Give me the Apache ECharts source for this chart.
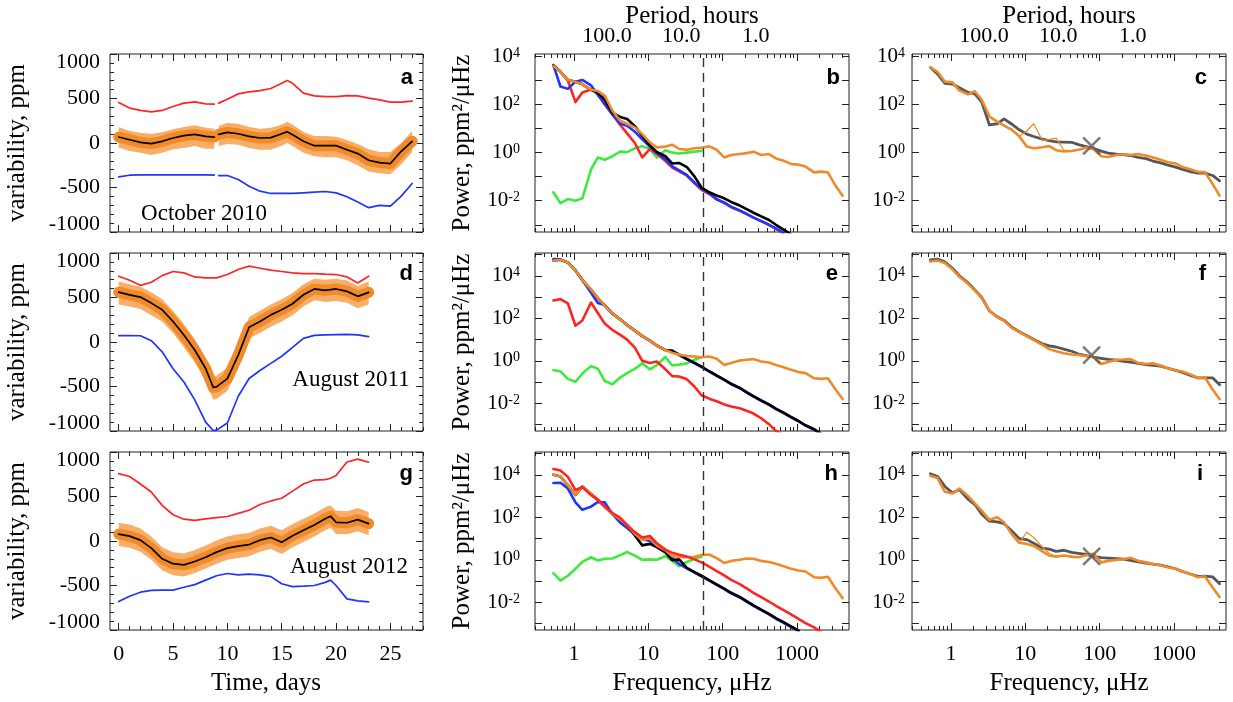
<!DOCTYPE html>
<html><head><meta charset="utf-8">
<script src="https://cdn.jsdelivr.net/npm/echarts@6/dist/echarts.min.js"></script>
<style>html,body{margin:0;padding:0;background:#fff}#c{width:1233px;height:702px}</style>
</head><body><div id="c"></div>
<script>
// ---------------- DATA ----------------
// Left column: time series (ppm) on a day grid; null = data gap
const DAYS_A  = [0,1,2,3,4,5,6,7,8,8.8,9,9.2,10,11,12,13,14,15,15.5,16,17,18,19,20,21,22,23,24,25,26,27];
const RED_A   = [455,392,366,350,366,410,448,463,440,436,null,448,492,552,574,589,612,671,701,671,560,530,522,522,533,530,504,485,459,459,470];
const BLACK_A = [67,37,7,-7,19,56,82,97,75,67,null,97,119,104,75,56,60,104,127,93,19,-30,-30,-30,-75,-119,-194,-220,-231,-93,19];
const BLUE_A  = [-380,-362,-358,-358,-358,-358,-358,-358,-358,-360,null,-366,-366,-410,-485,-541,-567,-567,-567,-567,-560,-552,-545,-560,-604,-664,-727,-701,-709,-597,-455];
const UPPER_A = [180,135,115,100,120,155,180,200,170,160,null,190,225,215,180,160,170,205,240,205,125,80,80,70,35,-10,-70,-100,-100,0,135];
const LOWER_A = [-50,-90,-110,-135,-110,-70,-55,-35,-65,-65,null,-35,-10,-20,-55,-75,-75,-30,0,-35,-110,-150,-160,-160,-195,-250,-320,-340,-350,-240,-105];

const DAYS_D  = [0,1,2,3,4,5,6,7,8,8.7,9,10,11,12,13,14,15,16,17,18,19,20,21,22,23];
const RED_D   = [739,694,637,671,746,792,777,731,720,720,720,758,814,852,829,807,792,777,769,769,762,758,731,664,739];
const BLACK_D = [560,530,505,437,362,230,79,-90,-298,-510,-505,-411,-147,166,230,305,362,430,531,596,580,596,569,513,558];
const BLUE_D  = [72,72,70,15,-110,-300,-450,-650,-900,-995,-990,-910,-610,-410,-320,-240,-160,-60,40,75,80,82,85,80,60];
const UPPER_D = [680,650,620,560,480,350,200,30,-190,-380,-380,-290,-30,280,350,420,480,550,650,710,700,710,690,630,680];
const LOWER_D = [420,400,370,300,230,100,-60,-230,-440,-650,-640,-550,-290,40,100,170,230,300,400,470,450,460,440,380,420];

const DAYS_G  = [0,1,2,3,4,5,6,7,8,9,10,11,12,13,14,15,16,17,18,19,19.5,20,21,22,23];
const RED_G   = [757,725,640,550,400,295,245,232,248,262,275,310,345,410,450,480,560,640,685,690,705,735,888,920,885];
const BLACK_G = [77,55,10,-80,-200,-255,-268,-230,-182,-125,-80,-58,-40,9,39,-15,60,120,180,250,279,210,205,240,195];
const BLUE_G  = [-680,-620,-575,-555,-552,-552,-520,-490,-440,-390,-365,-380,-372,-380,-400,-480,-512,-508,-500,-465,-440,-500,-650,-672,-683];
const UPPER_G = [205,185,140,50,-70,-125,-140,-100,-50,5,50,75,90,140,170,120,190,250,310,380,400,340,335,370,325];
const LOWER_G = [-55,-75,-120,-210,-330,-385,-400,-360,-310,-255,-210,-190,-170,-120,-90,-145,-70,-10,50,120,150,80,75,110,65];

// Spectra: frequency grid (µHz) and log10(power, ppm²/µHz)
const FREQ = [0.53,0.66,0.83,1.05,1.3,1.7,2.1,2.6,3.3,4.2,5.2,6.6,8.3,10.5,13,17,21,26,33,42,52,66,83,105,130,170,210,260,330,420,520,660,830,1050,1300,1700,2100,2600,3300,4100];

const LGP_B_ORANGE = [3.61,3.36,3.02,2.95,2.84,2.61,2.56,2.37,1.74,1.33,1.19,1.05,0.77,0.43,0.22,0.25,0.33,0.15,0.12,0.18,0.20,0.26,0.12,-0.20,-0.10,-0.06,-0.02,0.04,-0.10,-0.06,-0.24,-0.34,-0.47,-0.50,-0.58,-0.82,-0.79,-0.82,-1.38,-1.79];
const LGP_B_BLACK  = [3.61,3.36,3.02,2.95,2.84,2.61,2.5,2.2,1.65,1.48,1.4,1.1,0.7,0.3,0.03,-0.15,-0.45,-0.43,-0.6,-1.0,-1.45,-1.65,-1.78,-1.9,-2.05,-2.2,-2.35,-2.5,-2.65,-2.8,-3.0,-3.2,-3.4];
const LGP_B_BLUE   = [3.64,2.75,2.65,2.95,3.02,2.80,2.40,2.02,1.58,1.20,1.12,0.87,0.55,0.25,0.0,-0.28,-0.57,-0.74,-0.93,-1.25,-1.5,-1.7,-1.95,-2.07,-2.25,-2.4,-2.55,-2.7,-2.85,-3.0,-3.15,-3.35];
const LGP_B_RED    = [3.64,3.36,3.0,2.1,2.5,2.62,2.45,2.0,1.6,1.15,0.8,0.4,-0.2,0.15,-0.05,-0.35,-0.62,-0.78,-0.96,-1.28,-1.55,-1.72,-1.92,-2.1,-2.27,-2.42,-2.56,-2.7,-2.85,-3.0,-3.17,-3.35];
const LGP_B_GREEN  = [-1.65,-2.1,-1.93,-2.0,-1.9,-0.7,-0.2,-0.3,-0.15,0.04,0.02,0.18,0.27,0.15,-0.2,0.1,0.0,-0.04,0.0,0.04,0.08];

const LGP_C_GRAY   = [3.54,3.27,2.88,2.85,2.7,2.5,2.44,2.1,1.15,1.2,1.4,1.18,0.95,0.77,0.67,0.56,0.5,0.45,0.44,0.43,0.33,0.25,0.17,0.06,-0.02,-0.06,-0.08,-0.12,-0.2,-0.25,-0.35,-0.43,-0.52,-0.6,-0.7,-0.8,-0.85,-0.85,-0.95,-1.17];
const LGP_C_ORANGE = [3.54,3.36,2.95,2.92,2.58,2.42,2.55,2.2,1.5,1.29,1.12,0.95,0.68,0.25,0.18,0.22,0.27,0.1,0.05,0.07,0.12,0.2,0.15,-0.15,-0.18,-0.1,-0.07,-0.1,-0.06,-0.12,-0.2,-0.3,-0.4,-0.45,-0.6,-0.7,-0.8,-0.82,-1.3,-1.79];
const LGP_C_THIN   = [null,null,null,null,null,null,null,null,null,null,null,null,0.68,0.9,1.2,0.5,0.55,0.6,0.1,0.07];

const LGP_E_ORANGE = [4.72,4.75,4.62,4.25,3.8,3.35,2.95,2.6,2.22,1.95,1.68,1.42,1.16,0.95,0.72,0.5,0.38,0.29,0.23,0.2,0.17,0.2,0.1,-0.2,-0.1,0.01,0.05,0.08,-0.03,-0.08,-0.2,-0.3,-0.42,-0.53,-0.58,-0.82,-0.85,-0.82,-1.35,-1.8];
const LGP_E_BLACK  = [4.72,4.75,4.62,4.25,3.8,3.35,2.95,2.6,2.22,1.95,1.68,1.42,1.16,0.95,0.72,0.5,0.48,0.29,0.09,-0.1,-0.27,-0.49,-0.69,-0.88,-1.08,-1.27,-1.47,-1.66,-1.86,-2.05,-2.25,-2.44,-2.64,-2.83,-3.03,-3.22,-3.42];
const LGP_E_BLUE   = [4.78,4.77,4.62,4.25,3.8,3.2,2.72,2.62,2.22,1.95,1.68,1.42,1.16,0.95,0.72,0.5,0.46,0.27,0.07,-0.12,-0.29,-0.51,-0.71,-0.9,-1.1,-1.29,-1.49,-1.68,-1.88,-2.07,-2.27,-2.46,-2.66,-2.85,-3.05,-3.24,-3.44];
const LGP_E_RED    = [2.84,2.9,2.7,1.65,1.9,2.74,2.25,1.75,1.45,1.22,1.0,0.62,0.0,-0.1,-0.03,-0.4,-0.72,-0.74,-0.87,-1.22,-1.62,-1.78,-1.9,-2.05,-2.15,-2.23,-2.35,-2.48,-2.7,-2.98,-3.3,-3.5];
const LGP_E_GREEN  = [-0.43,-0.5,-0.85,-0.98,-0.6,-0.25,-0.37,-0.95,-1.1,-0.78,-0.58,-0.38,-0.12,-0.4,-0.2,0.18,-0.22,-0.18,-0.12,0.05,0.18];

const LGP_F_GRAY   = [4.75,4.78,4.65,4.35,4.0,3.67,3.33,2.98,2.35,2.07,1.9,1.58,1.37,1.18,1.0,0.8,0.7,0.65,0.55,0.45,0.32,0.25,0.17,0.12,0.07,0.03,-0.03,-0.06,-0.12,-0.18,-0.21,-0.25,-0.35,-0.45,-0.55,-0.7,-0.8,-0.8,-0.8,-1.13];
const LGP_F_ORANGE = [4.67,4.72,4.6,4.3,3.95,3.62,3.3,2.95,2.35,2.05,1.88,1.55,1.35,1.15,0.97,0.75,0.55,0.45,0.36,0.3,0.27,0.22,0.18,-0.15,-0.05,0.05,0.06,0.08,-0.1,-0.15,-0.12,-0.22,-0.35,-0.45,-0.5,-0.65,-0.82,-0.77,-1.35,-1.8];

const LGP_H_RED    = [4.27,4.2,3.9,3.28,3.42,3.05,2.82,2.5,2.2,1.97,1.63,1.3,1.05,1.12,0.78,0.48,0.33,0.24,0.15,0.02,-0.12,-0.32,-0.53,-0.73,-0.94,-1.14,-1.34,-1.55,-1.75,-1.96,-2.16,-2.37,-2.57,-2.78,-2.98,-3.18,-3.39];
const LGP_H_BLACK  = [4.0,3.92,3.5,3.05,3.45,3.1,2.82,2.5,2.15,1.9,1.63,1.15,0.68,0.75,0.6,0.35,-0.02,0.02,-0.38,-0.58,-0.75,-0.95,-1.15,-1.35,-1.55,-1.74,-1.94,-2.14,-2.34,-2.54,-2.74,-2.93,-3.13,-3.33];
const LGP_H_BLUE   = [3.61,3.62,3.35,2.7,2.35,2.5,2.72,2.7,2.15,1.75,1.5,1.2,0.98,0.88,0.65,0.4,0.1,-0.2,-0.4,-0.6,-0.78,-0.98,-1.18,-1.38,-1.58,-1.77,-1.97,-2.17,-2.37,-2.57,-2.77,-2.96,-3.16,-3.36];
const LGP_H_ORANGE = [4.0,3.92,3.5,3.05,3.45,3.1,2.82,2.5,2.15,1.9,1.63,1.22,0.95,1.0,0.68,0.45,0.18,0.13,0.12,0.14,0.23,0.25,0.08,-0.15,-0.05,0.0,0.06,0.05,-0.05,-0.1,-0.18,-0.3,-0.42,-0.5,-0.55,-0.82,-0.85,-0.8,-1.35,-1.8];
const LGP_H_GREEN  = [-0.63,-0.98,-0.75,-0.42,-0.1,0.12,-0.03,0.05,0.06,0.22,0.37,0.2,0.0,0.02,0.0,0.17,-0.05,-0.3,-0.1,0.05,0.14];

const LGP_I_GRAY   = [4.05,3.92,3.45,3.15,3.3,2.85,2.6,2.15,1.82,1.78,1.7,1.35,1.0,0.95,0.78,0.55,0.5,0.4,0.45,0.35,0.3,0.25,0.16,0.1,0.08,0.05,0.03,-0.03,-0.1,-0.15,-0.2,-0.25,-0.33,-0.42,-0.55,-0.68,-0.78,-0.77,-0.8,-1.13];
const LGP_I_ORANGE = [3.95,3.85,3.2,3.12,3.35,3.0,2.65,2.3,1.88,2.0,1.75,1.2,0.8,0.75,0.65,0.4,0.2,0.15,0.2,0.15,0.12,0.22,0.28,-0.12,-0.05,0.0,0.03,0.1,-0.05,-0.12,-0.2,-0.25,-0.35,-0.42,-0.55,-0.68,-0.82,-0.77,-1.3,-1.75];
const LGP_I_THIN   = [null,null,null,null,null,null,null,null,null,null,null,null,0.8,1.3,1.05,0.6,0.3,0.15];

// "X" markers (frequency µHz, log10 power) and dashed-line frequency (µHz)
const MARK_C = [78, 0.28];
const MARK_F = [78, 0.27];
const MARK_I = [78, 0.16];
const DASH_FREQ = 55;

// Tick labels
const TIME_TICKS = [0,5,10,15,20,25];
const PPM_TICKS = [-1000,-500,0,500,1000];
const FREQ_TICKS = [1,10,100,1000];
const PERIOD_TICKS = [100,10,1];
const POW_LABEL_EXP = [-2,0,2,4];

// ---------------- LAYOUT / STYLE ----------------
const SERIF = 'Liberation Serif';
const COL_LEFT = [110, 535, 912], COL_W = [313, 314, 314], ROW_TOP = [54, 253, 452], ROW_H = 178;
const TICKC = {color:'#222', width:1};
const C = {red:'#FF2424', blue:'#1F35FF', green:'#3FEA3F', orange:'#EF8A2A', gray:'#565656', black:'#000'};

const option = {animation:false, backgroundColor:'#fff', grid:[], xAxis:[], yAxis:[], series:[], graphic:[]};

function ax(gi, min, max, position, tickVals, tickLen, labelOpt) {
  return {gridIndex:gi, type:'value', min, max, position, scale:true,
    axisLine:{show:false, onZero:false}, splitLine:{show:false},
    axisTick:{show: tickVals.length>0, inside:true, length:tickLen, customValues:tickVals.length?tickVals:undefined, lineStyle:TICKC},
    axisLabel: labelOpt || {show:false}};
}
function addPanel(col,row,xr,yr,xMaj,xMin,yMaj,yMin,xLabel,yLabel,topLabel){
  const gi = option.grid.length;
  option.grid.push({left:COL_LEFT[col], top:ROW_TOP[row], width:COL_W[col], height:ROW_H, show:true, borderColor:'#222', borderWidth:1, backgroundColor:'transparent'});
  const xi = option.xAxis.length;
  option.xAxis.push(ax(gi,xr[0],xr[1],'bottom',xMaj,7,xLabel));
  option.xAxis.push(ax(gi,xr[0],xr[1],'bottom',xMin,4));
  option.xAxis.push(ax(gi,xr[0],xr[1],'top',xMaj,7));
  option.xAxis.push(ax(gi,xr[0],xr[1],'top',xMin,4));
  if (topLabel) option.xAxis.push(ax(gi,xr[0],xr[1],'top',[],0,topLabel));
  const yi = option.yAxis.length;
  option.yAxis.push(ax(gi,yr[0],yr[1],'left',yMaj,7,yLabel));
  option.yAxis.push(ax(gi,yr[0],yr[1],'left',yMin,4));
  option.yAxis.push(ax(gi,yr[0],yr[1],'right',yMaj,7));
  option.yAxis.push(ax(gi,yr[0],yr[1],'right',yMin,4));
  return {xi, yi};
}
function line(idx, data, color, width, extra){
  return Object.assign({type:'line', xAxisIndex:idx.xi, yAxisIndex:idx.yi, data, symbol:'none', showSymbol:false,
    connectNulls:false, silent:true, clip:true, lineStyle:{color, width, join:'round', cap:'round'}, itemStyle:{color}}, extra||{});
}
// filled band between two read envelopes, drawn through the axes' own coord()
function band(idx, days, upper, lower, color){
  return {type:'custom', xAxisIndex:idx.xi, yAxisIndex:idx.yi, silent:true, clip:true,
    data:[[days[0], upper[0]]],
    renderItem:(params, api) => {
      const children = []; let run = [];
      const flush = () => {
        if (run.length > 1) {
          const pts = run.map(i => api.coord([days[i], upper[i]]))
            .concat(run.slice().reverse().map(i => api.coord([days[i], lower[i]])));
          children.push({type:'polygon', shape:{points:pts}, style:{fill:color}});
        }
        run = [];
      };
      days.forEach((d,i) => { if (upper[i]==null || lower[i]==null) flush(); else run.push(i); });
      flush();
      return {type:'group', children};
    }};
}

// time axes
const dayMinor = []; for (let d=0; d<=28; d++) dayMinor.push(d);
const ppmMinor = []; for (let v=-900; v<=900; v+=100) ppmMinor.push(v);
const timeXLabel = {show:true, customValues:TIME_TICKS, margin:13, fontSize:22, fontFamily:SERIF, color:'#000'};
const ppmLabel = {show:true, customValues:PPM_TICKS, margin:10, color:'#000',
  formatter: v => v===1000 ? '{t|1000}' : (v===-1000 ? '{b|-1000}' : '{n|'+v+'}'),
  rich:{t:{fontSize:22, fontFamily:SERIF, color:'#000', padding:[16,0,0,0]},
        b:{fontSize:22, fontFamily:SERIF, color:'#000', padding:[0,0,16,0]},
        n:{fontSize:22, fontFamily:SERIF, color:'#000'}}};

// log axes (values are log10)
const LX = [Math.log10(0.3), Math.log10(5000)];
const lxMaj = FREQ_TICKS.map(Math.log10);
const lxMin = [];
[-1,0,1,2,3].forEach(n => { for (let k=2;k<=9;k++){ const v=k*Math.pow(10,n); if (v>0.3 && v<5000) lxMin.push(Math.log10(v)); } });
const freqLabel = {show:true, customValues:lxMaj, margin:13, fontSize:22, fontFamily:SERIF, color:'#000',
  formatter: v => String(Math.round(Math.pow(10, v)))};
const HOUR_UHZ = 1e6/3600;
const periodLabel = {show:true, customValues:PERIOD_TICKS.map(p => Math.log10(HOUR_UHZ/p)), margin:7, fontSize:22, fontFamily:SERIF, color:'#000',
  formatter: v => (HOUR_UHZ/Math.pow(10, v)).toFixed(1)};
const powLabel = m => ({show:true, customValues:POW_LABEL_EXP, margin:m, color:'#000',
  formatter: v => '{a|10}{s|' + Math.round(v) + '}',
  rich:{a:{fontSize:21, fontFamily:SERIF, color:'#000'}, s:{fontSize:14, fontFamily:SERIF, color:'#000', verticalAlign:'top', lineHeight:12}}});
const YR1 = [-3.3, 4.1], YR23 = [-3.3, 5.07];
const ly1 = [-3,-2,-1,0,1,2,3,4], ly23 = [-3,-2,-1,0,1,2,3,4,5];

// ---------------- PANELS ----------------
function timePanel(row, days, red, black, blue, upper, lower){
  const idx = addPanel(0,row,[-0.8,28],[-1000,1000],TIME_TICKS,dayMinor,PPM_TICKS,ppmMinor,row===2?timeXLabel:null,ppmLabel);
  const pair = a => days.map((d,i) => [d, a[i]==null?null:a[i]]);
  option.series.push(band(idx, days, upper, lower, '#F8AE66'));
  option.series.push(line(idx, pair(black), '#F18A28', 11));
  option.series.push(line(idx, pair(red), C.red, 1.7));
  option.series.push(line(idx, pair(blue), C.blue, 1.7));
  option.series.push(line(idx, pair(black), C.black, 1.7));
}
timePanel(0, DAYS_A, RED_A, BLACK_A, BLUE_A, UPPER_A, LOWER_A);
timePanel(1, DAYS_D, RED_D, BLACK_D, BLUE_D, UPPER_D, LOWER_D);
timePanel(2, DAYS_G, RED_G, BLACK_G, BLUE_G, UPPER_G, LOWER_G);

function specData(lg){ return FREQ.map((f,i) => [Math.log10(f), lg[i]==null?null:lg[i]]); }
function specPanel(col,row,lines,dash,mark){
  const isTop=row===0, isBot=row===2;
  const idx = addPanel(col,row,LX,isTop?YR1:YR23,lxMaj,lxMin,isTop?ly1:ly23,[],isBot?freqLabel:null,powLabel(col===1?15:7),isTop?periodLabel:null);
  lines.forEach((l,k) => {
    const s = line(idx, specData(l[0]), l[1], l[2]);
    if (dash && k===0) s.markLine = {silent:true, symbol:['none','none'], label:{show:false},
      lineStyle:{type:[9,6], color:'#333', width:1.4}, data:[{xAxis:Math.log10(DASH_FREQ)}], animation:false};
    option.series.push(s);
  });
  if (mark) option.series.push({type:'scatter', xAxisIndex:idx.xi, yAxisIndex:idx.yi, silent:true,
    data:[[Math.log10(mark[0]), mark[1]]], symbol:'path://M0,0L10,10M10,0L0,10', symbolSize:17,
    itemStyle:{color:'rgba(0,0,0,0)', borderColor:'#5a5a5a', borderWidth:2.6}, z:5});
}
specPanel(1,0,[[LGP_B_GREEN,C.green,2.6],[LGP_B_RED,C.red,2.6],[LGP_B_BLUE,C.blue,2.6],[LGP_B_BLACK,C.black,2.6],[LGP_B_ORANGE,C.orange,2.6]],true,null);
specPanel(1,1,[[LGP_E_GREEN,C.green,2.6],[LGP_E_RED,C.red,2.6],[LGP_E_BLUE,C.blue,2.6],[LGP_E_BLACK,C.black,2.6],[LGP_E_ORANGE,C.orange,2.6]],true,null);
specPanel(1,2,[[LGP_H_GREEN,C.green,2.6],[LGP_H_BLUE,C.blue,2.6],[LGP_H_BLACK,C.black,2.6],[LGP_H_ORANGE,C.orange,2.6],[LGP_H_RED,C.red,2.6]],true,null);
specPanel(2,0,[[LGP_C_GRAY,C.gray,2.8],[LGP_C_THIN,C.orange,1.2],[LGP_C_ORANGE,C.orange,2.6]],false,MARK_C);
specPanel(2,1,[[LGP_F_GRAY,C.gray,2.8],[LGP_F_ORANGE,C.orange,2.6]],false,MARK_F);
specPanel(2,2,[[LGP_I_GRAY,C.gray,2.8],[LGP_I_THIN,C.orange,1.2],[LGP_I_ORANGE,C.orange,2.6]],false,MARK_I);

// ---------------- TEXT ----------------
function txt(x,y,text,font,align,rot){
  return {type:'text', x, y, rotation:rot||0, silent:true, z:100,
    style:{text, font, fill:'#000', textAlign:align||'center', align:align||'center', textVerticalAlign:'middle', verticalAlign:'middle'}};
}
const TITLE = '25px "Liberation Serif"', ANN = '23px "Liberation Serif"', LET = 'bold 22px "Liberation Sans"';
const G = option.graphic;
[143,342,541].forEach(y => { G.push(txt(17,y,'variability, ppm',TITLE,'center',Math.PI/2)); G.push(txt(462,y,'Power, ppm²/μHz',TITLE,'center',Math.PI/2)); });
G.push(txt(266,683,'Time, days',TITLE));
G.push(txt(692,683,'Frequency, μHz',TITLE));
G.push(txt(1069,683,'Frequency, μHz',TITLE));
G.push(txt(692,16,'Period, hours',TITLE));
G.push(txt(1069,16,'Period, hours',TITLE));
G.push(txt(204,214,'October 2010',ANN));
G.push(txt(351,380,'August 2011',ANN));
G.push(txt(349,567,'August 2012',ANN));
[['a',413,78],['b',840,78],['c',1207,78],['d',413,274],['e',838,274],['f',1206,274],['g',413,474],['h',838,474],['i',1203,474]]
  .forEach(p => G.push(txt(p[1],p[2],p[0],LET,'right')));

const chart = echarts.init(document.getElementById('c'), null, {renderer:'canvas'});
chart.setOption(option);
</script></body></html>
